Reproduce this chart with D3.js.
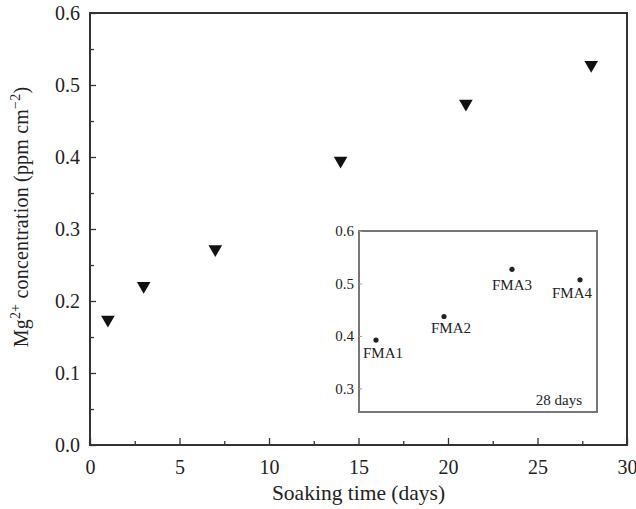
<!DOCTYPE html>
<html>
<head>
<meta charset="utf-8">
<script src="https://cdn.jsdelivr.net/npm/d3@7"></script>
<style>
  html, body { margin: 0; padding: 0; background: #fff; }
  svg { display: block; }
  text { font-family: "Liberation Serif", "DejaVu Serif", serif; fill: #222; }
</style>
</head>
<body>
<svg id="chart" width="636" height="509"></svg>
<script>
// ---- Data ----
const soakDays = [1, 3, 7, 14, 21, 28];
const mgConc = [0.174, 0.221, 0.272, 0.395, 0.474, 0.528];
const xTicks = [0, 5, 10, 15, 20, 25, 30];
const yTicks = [0.0, 0.1, 0.2, 0.3, 0.4, 0.5, 0.6];

const insetSamples = ["FMA1", "FMA2", "FMA3", "FMA4"];
const insetValues = [0.392, 0.437, 0.527, 0.507];
const insetYTicks = [0.3, 0.4, 0.5, 0.6];
const insetNote = "28 days";

// label offsets (layout only)
const insetLabelOffsets = [[7, 18], [7, 16], [0, 21], [-8, 18]];

// ---- Layout ----
const svg = d3.select("#chart");
const M = { left: 90, right: 627, top: 13, bottom: 445 };

const x = d3.scaleLinear().domain([0, 30]).range([M.left, M.right]);
const y = d3.scaleLinear().domain([0, 0.6]).range([M.bottom, M.top]);

const frameColor = "#333";

const g = svg.append("g");
const xAxis = d3.axisBottom(x).tickValues(xTicks).tickSize(-7).tickPadding(15)
  .tickFormat(d3.format("d"));
const xAxisMinor = d3.axisBottom(x).tickValues(d3.range(2.5, 30, 5)).tickSize(-4).tickFormat("");
const yAxis = d3.axisLeft(y).tickValues(yTicks).tickSize(-6).tickPadding(10)
  .tickFormat(d3.format(".1f"));
const yAxisMinor = d3.axisLeft(y).tickValues(d3.range(0.05, 0.6, 0.1)).tickSize(-4).tickFormat("");

function styleAxis(sel) {
  sel.select(".domain").remove();
  sel.selectAll(".tick line").attr("stroke", frameColor).attr("stroke-width", 1.3);
  sel.selectAll(".tick text").attr("fill", "#222")
    .style("font-family", '"Liberation Serif", serif').style("font-size", "20px");
}

g.append("g").attr("transform", `translate(0,${M.bottom})`).call(xAxis).call(styleAxis);
g.append("g").attr("transform", `translate(0,${M.bottom})`).call(xAxisMinor).call(styleAxis);
g.append("g").attr("transform", `translate(${M.left},0)`).call(yAxis).call(styleAxis);
g.append("g").attr("transform", `translate(${M.left},0)`).call(yAxisMinor).call(styleAxis);

// frame
svg.append("rect")
  .attr("x", M.left).attr("y", M.top)
  .attr("width", M.right - M.left).attr("height", M.bottom - M.top)
  .attr("fill", "none").attr("stroke", frameColor).attr("stroke-width", 2);

// main markers: downward triangles
const tri = d3.symbol().type(d3.symbolTriangle).size(80);
svg.append("g").selectAll("path")
  .data(soakDays.map((d, i) => [d, mgConc[i]]))
  .join("path")
  .attr("d", tri)
  .attr("transform", d => `translate(${x(d[0])},${y(d[1])}) rotate(180)`)
  .attr("fill", "#111");

// axis titles
svg.append("text")
  .attr("x", (M.left + M.right) / 2).attr("y", 500)
  .attr("text-anchor", "middle")
  .style("font-size", "21.5px")
  .text("Soaking time (days)");

const yt = svg.append("text")
  .attr("transform", "translate(28,217) rotate(-90)")
  .attr("text-anchor", "middle")
  .style("font-size", "20px")
  .style("letter-spacing", "0.2px");
yt.append("tspan").text("Mg");
yt.append("tspan").attr("dy", -8).style("font-size", "14px").text("2+");
yt.append("tspan").attr("dy", 8).text(" concentration (ppm cm");
yt.append("tspan").attr("dy", -8).style("font-size", "14px").text("\u22122");
yt.append("tspan").attr("dy", 8).text(")");

// ---- Inset ----
const I = { left: 359, right: 597, top: 231, bottom: 412 };
const xi = d3.scaleLinear().domain([0.75, 4.25]).range([I.left, I.right]);
const yi = d3.scaleLinear().domain([0.255, 0.6]).range([I.bottom, I.top]);

svg.append("rect")
  .attr("x", I.left).attr("y", I.top)
  .attr("width", I.right - I.left).attr("height", I.bottom - I.top)
  .attr("fill", "#fff").attr("stroke", "#777").attr("stroke-width", 2);

const yiAxis = d3.axisLeft(yi).tickValues(insetYTicks).tickSize(-3).tickPadding(5)
  .tickFormat(d3.format(".1f"));
const gi = svg.append("g").attr("transform", `translate(${I.left},0)`).call(yiAxis);
gi.select(".domain").remove();
gi.selectAll(".tick line").attr("stroke", "#999");
gi.selectAll(".tick text").attr("fill", "#222")
  .style("font-family", '"Liberation Serif", serif').style("font-size", "15px");

const insetData = insetSamples.map((s, i) => ({ s, i, v: insetValues[i] }));
svg.append("g").selectAll("circle")
  .data(insetData).join("circle")
  .attr("cx", d => xi(d.i + 1)).attr("cy", d => yi(d.v))
  .attr("r", 2.6).attr("fill", "#222");

svg.append("g").selectAll("text")
  .data(insetData).join("text")
  .attr("x", d => xi(d.i + 1) + insetLabelOffsets[d.i][0])
  .attr("y", d => yi(d.v) + insetLabelOffsets[d.i][1])
  .attr("text-anchor", "middle")
  .style("font-size", "15px")
  .text(d => d.s);

svg.append("text")
  .attr("x", I.right - 15).attr("y", I.bottom - 7)
  .attr("text-anchor", "end")
  .style("font-size", "15px")
  .text(insetNote);
</script>
</body>
</html>
